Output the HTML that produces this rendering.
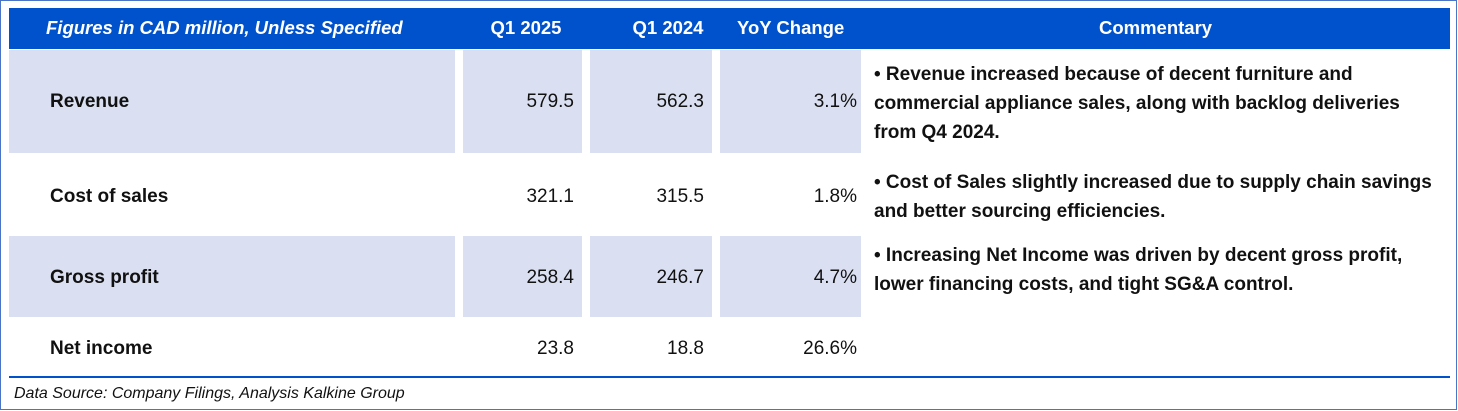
<!DOCTYPE html><html><head><style>
body{margin:0;width:1458px;height:411px;position:relative;background:#fff;font-family:"Liberation Sans",Arial,sans-serif;overflow:hidden}
.a{position:absolute;white-space:nowrap}
.b{position:absolute;border:1.5px solid #4a74c6;left:0;top:0;width:1455px;height:408px}
.h{background:#0052cc;top:8px;height:41px;left:9px;width:1441px}
.ht{color:#fff;font-weight:bold;font-size:18.5px;top:17px}
.s{background:#dae0f1}
.t{font-size:19px;color:#111}
.r{text-align:right}
.c{font-size:19px;font-weight:bold;color:#111;line-height:29px;left:874px;width:580px}
</style></head><body>
<div class="b"></div>
<div class="a h"></div>
<div class="a ht" style="left:46px;font-style:italic">Figures in CAD million, Unless Specified</div>
<div class="a ht" style="left:476px;width:100px;text-align:center">Q1 2025</div>
<div class="a ht" style="left:618px;width:100px;text-align:center">Q1 2024</div>
<div class="a ht" style="left:737px">YoY Change</div>
<div class="a ht" style="left:1099px">Commentary</div>

<div class="a s" style="left:9px;top:50px;width:446px;height:103px"></div>
<div class="a s" style="left:463px;top:50px;width:119px;height:103px"></div>
<div class="a s" style="left:590px;top:50px;width:122px;height:103px"></div>
<div class="a s" style="left:720px;top:50px;width:141px;height:103px"></div>
<div class="a s" style="left:9px;top:236px;width:446px;height:81px"></div>
<div class="a s" style="left:463px;top:236px;width:119px;height:81px"></div>
<div class="a s" style="left:590px;top:236px;width:122px;height:81px"></div>
<div class="a s" style="left:720px;top:236px;width:141px;height:81px"></div>

<div class="a t" style="left:50px;top:91px;font-weight:bold">Revenue</div>
<div class="a t r" style="left:463px;width:111px;top:91px">579.5</div>
<div class="a t r" style="left:590px;width:114px;top:91px">562.3</div>
<div class="a t r" style="left:720px;width:137px;top:91px">3.1%</div>

<div class="a t" style="left:50px;top:186px;font-weight:bold">Cost of sales</div>
<div class="a t r" style="left:463px;width:111px;top:186px">321.1</div>
<div class="a t r" style="left:590px;width:114px;top:186px">315.5</div>
<div class="a t r" style="left:720px;width:137px;top:186px">1.8%</div>

<div class="a t" style="left:50px;top:267px;font-weight:bold">Gross profit</div>
<div class="a t r" style="left:463px;width:111px;top:267px">258.4</div>
<div class="a t r" style="left:590px;width:114px;top:267px">246.7</div>
<div class="a t r" style="left:720px;width:137px;top:267px">4.7%</div>

<div class="a t" style="left:50px;top:338px;font-weight:bold">Net income</div>
<div class="a t r" style="left:463px;width:111px;top:338px">23.8</div>
<div class="a t r" style="left:590px;width:114px;top:338px">18.8</div>
<div class="a t r" style="left:720px;width:137px;top:338px">26.6%</div>

<div class="a c" style="top:60px">• Revenue increased because of decent furniture and<br>commercial appliance sales, along with backlog deliveries<br>from Q4 2024.</div>
<div class="a c" style="top:168px">• Cost of Sales slightly increased due to supply chain savings<br>and better sourcing efficiencies.</div>
<div class="a c" style="top:241px">• Increasing Net Income was driven by decent gross profit,<br>lower financing costs, and tight SG&amp;A control.</div>

<div class="a" style="left:9px;top:376px;width:1441px;height:2px;background:#0052cc"></div>
<div class="a" style="left:14px;top:385px;font-size:16px;font-style:italic;color:#111">Data Source: Company Filings, Analysis Kalkine Group</div>
</body></html>
